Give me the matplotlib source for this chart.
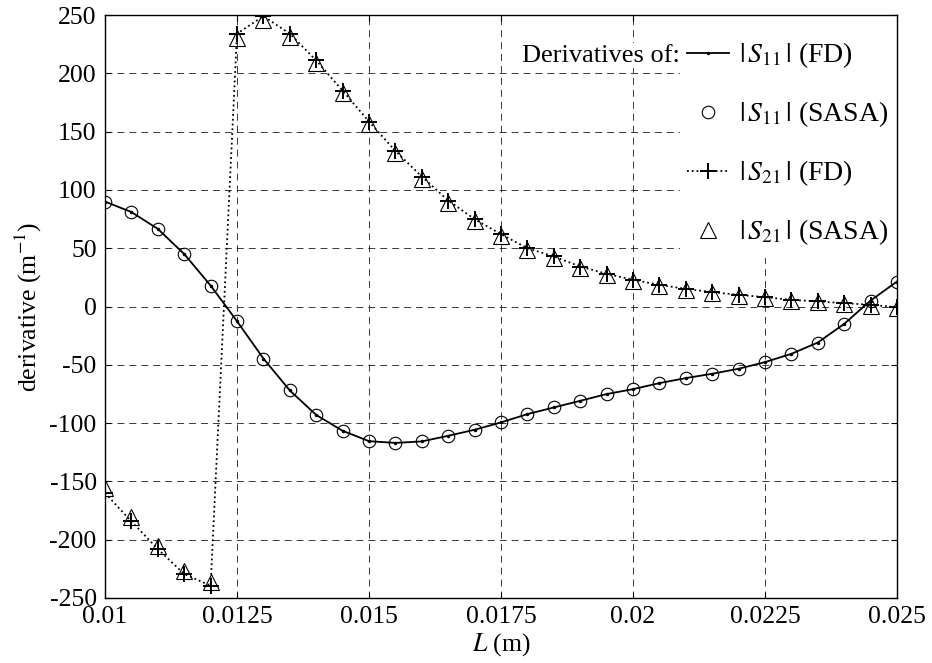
import matplotlib
matplotlib.use("Agg")
import matplotlib.pyplot as plt
from matplotlib.patches import Rectangle

plt.rcParams['font.family'] = ['Liberation Serif', 'DejaVu Serif']
plt.rcParams['mathtext.fontset'] = 'stix'
plt.rcParams['axes.unicode_minus'] = False

L = [0.0100, 0.0105, 0.0110, 0.0115, 0.0120, 0.0125, 0.0130, 0.0135, 0.0140, 0.0145,
     0.0150, 0.0155, 0.0160, 0.0165, 0.0170, 0.0175, 0.0180, 0.0185, 0.0190, 0.0195,
     0.0200, 0.0205, 0.0210, 0.0215, 0.0220, 0.0225, 0.0230, 0.0235, 0.0240, 0.0245,
     0.0250]

s11_fd = [90, 81, 66.6, 45, 18, -12.6, -44.6, -72, -93, -106.6,
          -115.5, -117, -115.7, -110.9, -105.7, -99.4, -92.3, -86.6, -80.9, -75.1,
          -70.9, -65.7, -61.4, -57.7, -53.4, -47.7, -40.6, -30.9, -14.9, 5.1,
          21.4]
s11_sasa = [90, 81, 66.6, 45, 18, -12.6, -44.6, -72, -93, -106.6,
            -115.5, -117, -115.7, -110.9, -105.7, -99.4, -92.3, -86.6, -80.9, -75.1,
            -70.9, -65.7, -61.4, -57.7, -53.4, -47.7, -40.6, -30.9, -14.9, 5.1,
            21.4]
s21_fd = [-160, -184.3, -208, -229.4, -239.4, 234, 249, 234, 211, 185.1,
          158.6, 133.4, 111.4, 90.9, 74.9, 62, 50, 42.9, 34.3, 28,
          22.9, 18.6, 15.1, 12.3, 10, 8, 5.7, 4.3, 2.9, 1.4,
          -0.6]
s21_sasa = [-155.7, -180.6, -205, -226.6, -236.6, 230, 246, 231, 208.6, 183,
            156.5, 131.5, 109.5, 89, 73, 60.5, 48.5, 41.5, 33, 27,
            22, 17.5, 14, 11.5, 9, 7, 5, 3.5, 2, 0.8,
            -1]

xticks = [0.01, 0.0125, 0.015, 0.0175, 0.02, 0.0225, 0.025]
xticklabels = ['0.01', '0.0125', '0.015', '0.0175', '0.02', '0.0225', '0.025']
yticks = [-250, -200, -150, -100, -50, 0, 50, 100, 150, 200, 250]

labels = [r'$|\,S_{11}\,|$ (FD)', r'$|\,S_{11}\,|$ (SASA)',
          r'$|\,S_{21}\,|$ (FD)', r'$|\,S_{21}\,|$ (SASA)']

FS = 18.5
LFS = 20

fig = plt.figure(figsize=(9.32, 6.63), dpi=100)
ax = fig.add_axes([105/932, 1 - 598/663, 792/932, 583/663])

h1, = ax.plot(L, s11_fd, '-', color='k', lw=1.3, marker='.', ms=3, label=labels[0])
h2, = ax.plot(L, s11_sasa, 'o', mfc='none', mec='k', ms=9, mew=0.8, label=labels[1])
h4, = ax.plot(L, s21_sasa, '^', mfc='none', mec='k', ms=11.5, mew=0.8, label=labels[3])
h3, = ax.plot(L, s21_fd, ':', color='k', lw=1.3, marker='+', ms=12, mew=1.4, label=labels[2])

ax.set_xlim(0.01, 0.025)
ax.set_ylim(-250, 250)
ax.set_xticks(xticks)
ax.set_xticklabels(xticklabels)
ax.set_yticks(yticks)
ax.tick_params(direction='in', top=True, right=True, length=4, width=0.8,
               labelsize=FS, pad=6)
ax.set_axisbelow(True)
glw = 0.6
ax.grid(True, color='0.1', lw=glw, linestyle=(0, (5/glw, 3.6/glw)))
for s in ax.spines.values():
    s.set_linewidth(1.0)

ax.set_xlabel(r'$L$ (m)', fontsize=FS, labelpad=2)
ax.set_ylabel(r'derivative (m$^{-1}$)', fontsize=FS, labelpad=4)

# white background behind the legend area (covers the grid)
ax.add_patch(Rectangle((0.726, 0.583), 0.274, 0.417, transform=ax.transAxes,
                       facecolor='white', edgecolor='none', zorder=1))

leg = ax.legend(handles=[h1, h2, h3, h4], loc='upper right',
                bbox_to_anchor=(0.9886, 0.956),
                borderaxespad=0, fontsize=LFS, frameon=False,
                handlelength=1.5, handletextpad=0.35, borderpad=0,
                labelspacing=1.05)

ax.text(0.726, 0.92, 'Derivatives of:', transform=ax.transAxes, ha='right',
        va='baseline', fontsize=FS + 0.5, zorder=6,
        bbox=dict(facecolor='white', edgecolor='none', pad=1))

fig.savefig('out.png', dpi=100)
